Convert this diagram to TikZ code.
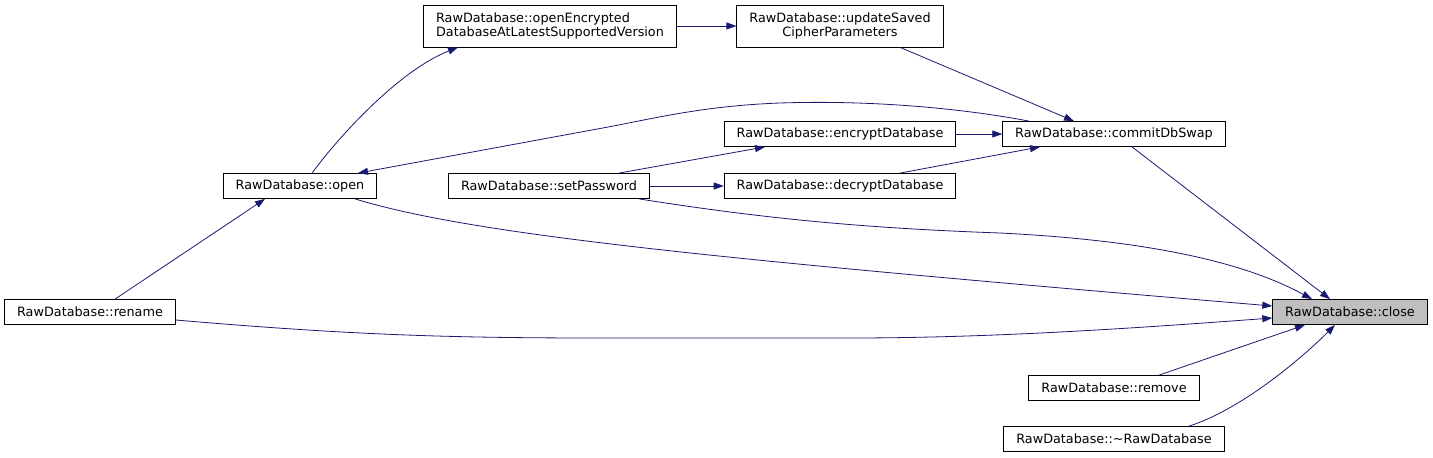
\documentclass[tikz,border=0pt]{standalone}
\usepackage{fontspec}
\setmainfont{DejaVu Sans}
\usetikzlibrary{arrows.meta}
\definecolor{edgeblue}{HTML}{191970}
\definecolor{callee}{HTML}{BFBFBF}

\begin{document}
\begin{tikzpicture}[x=1pt,y=-1pt,
  fn/.style={draw=black,fill=white,line width=0.8pt,minimum height=25pt,inner xsep=12.5pt,inner ysep=5pt,font=\fontsize{12.8}{14.5}\selectfont},
  twoline/.style={fn,inner ysep=7.5pt},
  target/.style={fn,fill=callee},
  call/.style={-{Triangle[length=10pt,width=7pt]},draw=edgeblue,line width=0.8pt}
]
\useasboundingbox (0,0) rectangle (1433,458);

% functions
\node[target] (rawClose) at (1350,312) {RawDatabase::close};
\node[fn] (rawCommit) at (1114,134) {RawDatabase::commitDbSwap};
\node[fn] (rawRemove) at (1114,388) {RawDatabase::remove};
\node[fn] (rawDtor) at (1114,439) {RawDatabase::\textasciitilde RawDatabase};
\node[fn] (rawEncrypt) at (840,134) {RawDatabase::encryptDatabase};
\node[fn] (rawDecrypt) at (840,186) {RawDatabase::decryptDatabase};
\node[twoline,align=center] (rawSaved) at (840,26) {RawDatabase::updateSaved\\CipherParameters};
\node[twoline,align=left] (rawOpenEnc) at (550,26) {RawDatabase::openEncrypted\\DatabaseAtLatestSupportedVersion};
\node[fn] (rawSetPw) at (549,186) {RawDatabase::setPassword};
\node[fn] (rawOpen) at (300,186) {RawDatabase::open};
\node[fn] (rawRename) at (90,312) {RawDatabase::rename};

% calls
\draw[call] ([xshift=12pt]rawOpen.north) .. controls (340,135) and (400,70) .. ([xshift=-92pt]rawOpenEnc.south);
\draw[call] (rawOpenEnc) -- (rawSaved);
\draw[call] ([xshift=60pt]rawSaved.south) -- ([xshift=-40pt]rawCommit.north);
\draw[call] ([xshift=-85pt]rawCommit.north) .. controls (960,108) and (870,100) .. (780,103)
  .. controls (700,106) and (650,119.5) .. (600,128.5) -- ([xshift=58pt]rawOpen.north);
\draw[call] (rawEncrypt) -- (rawCommit);
\draw[call] ([xshift=60pt]rawDecrypt.north) -- ([xshift=-74pt]rawCommit.south);
\draw[call] ([xshift=70pt]rawSetPw.north) -- ([xshift=-75pt]rawEncrypt.south);
\draw[call] (rawSetPw) -- (rawDecrypt);
\draw[call] ([xshift=90pt]rawSetPw.south) .. controls (760,218) and (860,228) .. (1000,233)
  .. controls (1140,240) and (1240,260) .. ([xshift=-38pt]rawClose.north);
\draw[call] ([xshift=55pt]rawOpen.south) .. controls (470,234) and (700,258) .. ([yshift=6pt]rawClose.west);
\draw[call] ([xshift=18pt]rawCommit.south) -- ([xshift=-20pt]rawClose.north);
\draw[call] ([yshift=-8pt]rawRename.east) .. controls (350,335) and (450,338) .. (600,338) -- (850,338)
  .. controls (1000,338) and (1150,327) .. ([yshift=-6pt]rawClose.west);
\draw[call] ([xshift=25pt]rawRename.north) -- ([xshift=-35pt]rawOpen.south);
\draw[call] ([xshift=45pt]rawRemove.north) -- ([xshift=-45pt]rawClose.south);
\draw[call] ([xshift=75pt]rawDtor.north) .. controls (1240,410) and (1300,360) .. ([xshift=-15pt]rawClose.south);
\end{tikzpicture}
\end{document}
